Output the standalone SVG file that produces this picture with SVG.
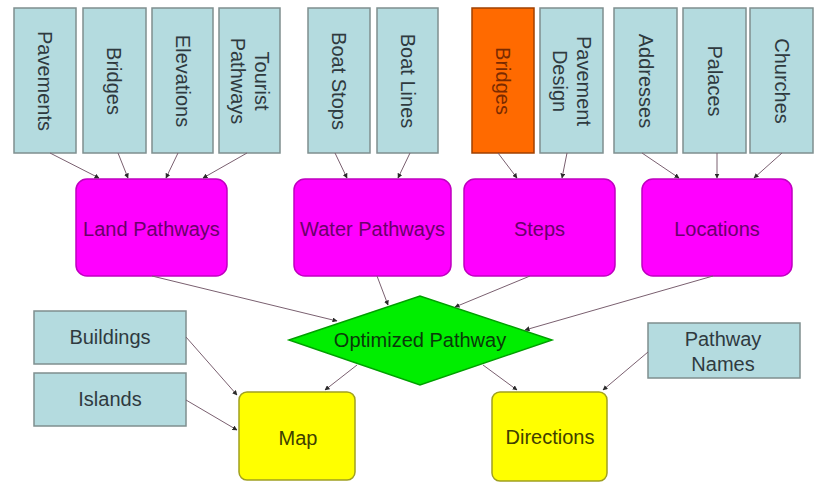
<svg xmlns="http://www.w3.org/2000/svg" width="820" height="487" viewBox="0 0 820 487">
<defs>
<marker id="ah" viewBox="0 0 10 10" refX="9" refY="5" markerWidth="5" markerHeight="5" orient="auto" markerUnits="userSpaceOnUse">
<path d="M0,0 L10,5 L0,10 z" fill="#2a2a2a"/>
</marker>
<style>
text{font-family:"Liberation Sans",Arial,sans-serif;font-size:20px;text-anchor:middle;dominant-baseline:central}
.blue{fill:#b4dbdf;stroke:#7f8f8f;stroke-width:1.5}
.bt{fill:#2f3a3f}
.org{fill:#ff6a00;stroke:#a04000;stroke-width:1.5}
.ot{fill:#7a2a00}
.mag{fill:#ff00ff;stroke:#c000c0;stroke-width:1.5}
.mt{fill:#6a006a}
.yel{fill:#ffff00;stroke:#a0a020;stroke-width:1.5}
.yt{fill:#404000}
.grn{fill:#00ee00;stroke:#00a000;stroke-width:1.5}
.gt{fill:#0a3a0a}
.c line{stroke:#7a6070;stroke-width:1;marker-end:url(#ah)}
</style>
</defs>
<rect width="820" height="487" fill="#ffffff"/>

<g id="n-pavements"><rect class="blue" x="14" y="8" width="62" height="145"/><text class="bt" transform="translate(45,81) rotate(90)">Pavements</text></g>
<g id="n-bridges1"><rect class="blue" x="83" y="8" width="63" height="145"/><text class="bt" transform="translate(114,81) rotate(90)">Bridges</text></g>
<g id="n-elevations"><rect class="blue" x="152" y="8" width="61" height="145"/><text class="bt" transform="translate(182.5,81) rotate(90)">Elevations</text></g>
<g id="n-tourist"><rect class="blue" x="219" y="8" width="61" height="145"/><text class="bt" transform="translate(249.5,81) rotate(90)"><tspan x="0" y="-12">Tourist</tspan><tspan x="0" y="12">Pathways</tspan></text></g>
<g id="n-boatstops"><rect class="blue" x="308" y="8" width="62" height="145"/><text class="bt" transform="translate(339,81) rotate(90)">Boat Stops</text></g>
<g id="n-boatlines"><rect class="blue" x="377" y="8" width="61" height="145"/><text class="bt" transform="translate(407.5,81) rotate(90)">Boat Lines</text></g>
<g id="n-bridges2"><rect class="org" x="472" y="8" width="62" height="145"/><text class="ot" transform="translate(503,81) rotate(90)">Bridges</text></g>
<g id="n-pavdesign"><rect class="blue" x="540" y="8" width="63" height="145"/><text class="bt" transform="translate(571.5,81) rotate(90)"><tspan x="0" y="-12">Pavement</tspan><tspan x="0" y="12">Design</tspan></text></g>
<g id="n-addresses"><rect class="blue" x="614" y="8" width="63" height="145"/><text class="bt" transform="translate(645.5,81) rotate(90)">Addresses</text></g>
<g id="n-palaces"><rect class="blue" x="683" y="8" width="63" height="145"/><text class="bt" transform="translate(714.5,81) rotate(90)">Palaces</text></g>
<g id="n-churches"><rect class="blue" x="750" y="8" width="63" height="145"/><text class="bt" transform="translate(781.5,81) rotate(90)">Churches</text></g>

<g id="n-land"><rect class="mag" x="76" y="179" width="151" height="97" rx="11"/><text class="mt" x="151.5" y="229">Land Pathways</text></g>
<g id="n-water"><rect class="mag" x="294" y="179" width="157" height="97" rx="11"/><text class="mt" x="372.5" y="229">Water Pathways</text></g>
<g id="n-steps"><rect class="mag" x="464" y="179" width="151" height="97" rx="11"/><text class="mt" x="539.5" y="229">Steps</text></g>
<g id="n-locations"><rect class="mag" x="642" y="179" width="150" height="97" rx="11"/><text class="mt" x="717" y="229">Locations</text></g>

<g id="n-optimized"><polygon class="grn" points="289,340 420,296 552,340 420,385"/><text class="gt" x="420" y="340">Optimized Pathway</text></g>

<g id="n-buildings"><rect class="blue" x="34" y="311" width="152" height="53"/><text class="bt" x="110" y="337">Buildings</text></g>
<g id="n-islands"><rect class="blue" x="34" y="373" width="152" height="53"/><text class="bt" x="110" y="399">Islands</text></g>
<g id="n-pathnames"><rect class="blue" x="648" y="323" width="152" height="55"/><text class="bt" x="723"><tspan x="723" y="339">Pathway</tspan><tspan x="723" y="364">Names</tspan></text></g>

<g id="n-map"><rect class="yel" x="239" y="392" width="116" height="88" rx="8"/><text class="yt" x="298" y="438">Map</text></g>
<g id="n-directions"><rect class="yel" x="492" y="392" width="115" height="89" rx="8"/><text class="yt" x="550" y="437">Directions</text></g>

<g id="connectors" class="c">
<line x1="50" y1="153" x2="99" y2="178"/>
<line x1="118" y1="153" x2="128" y2="178"/>
<line x1="178" y1="153" x2="166" y2="178"/>
<line x1="247" y1="153" x2="203" y2="178"/>
<line x1="335" y1="153" x2="347" y2="178"/>
<line x1="410" y1="153" x2="398" y2="178"/>
<line x1="498" y1="153" x2="517" y2="178"/>
<line x1="567" y1="153" x2="562" y2="178"/>
<line x1="642" y1="153" x2="679" y2="178"/>
<line x1="717" y1="153" x2="717" y2="178"/>
<line x1="782" y1="153" x2="754" y2="178"/>
<line x1="152" y1="276" x2="337" y2="321"/>
<line x1="377" y1="276" x2="388" y2="305"/>
<line x1="530" y1="276" x2="455" y2="307"/>
<line x1="713" y1="276" x2="525" y2="330"/>
<line x1="357" y1="365" x2="325" y2="390"/>
<line x1="483" y1="365" x2="517" y2="390"/>
<line x1="186" y1="337" x2="237" y2="395"/>
<line x1="186" y1="400" x2="237" y2="430"/>
<line x1="648" y1="352" x2="603" y2="390"/>
</g>
</svg>
